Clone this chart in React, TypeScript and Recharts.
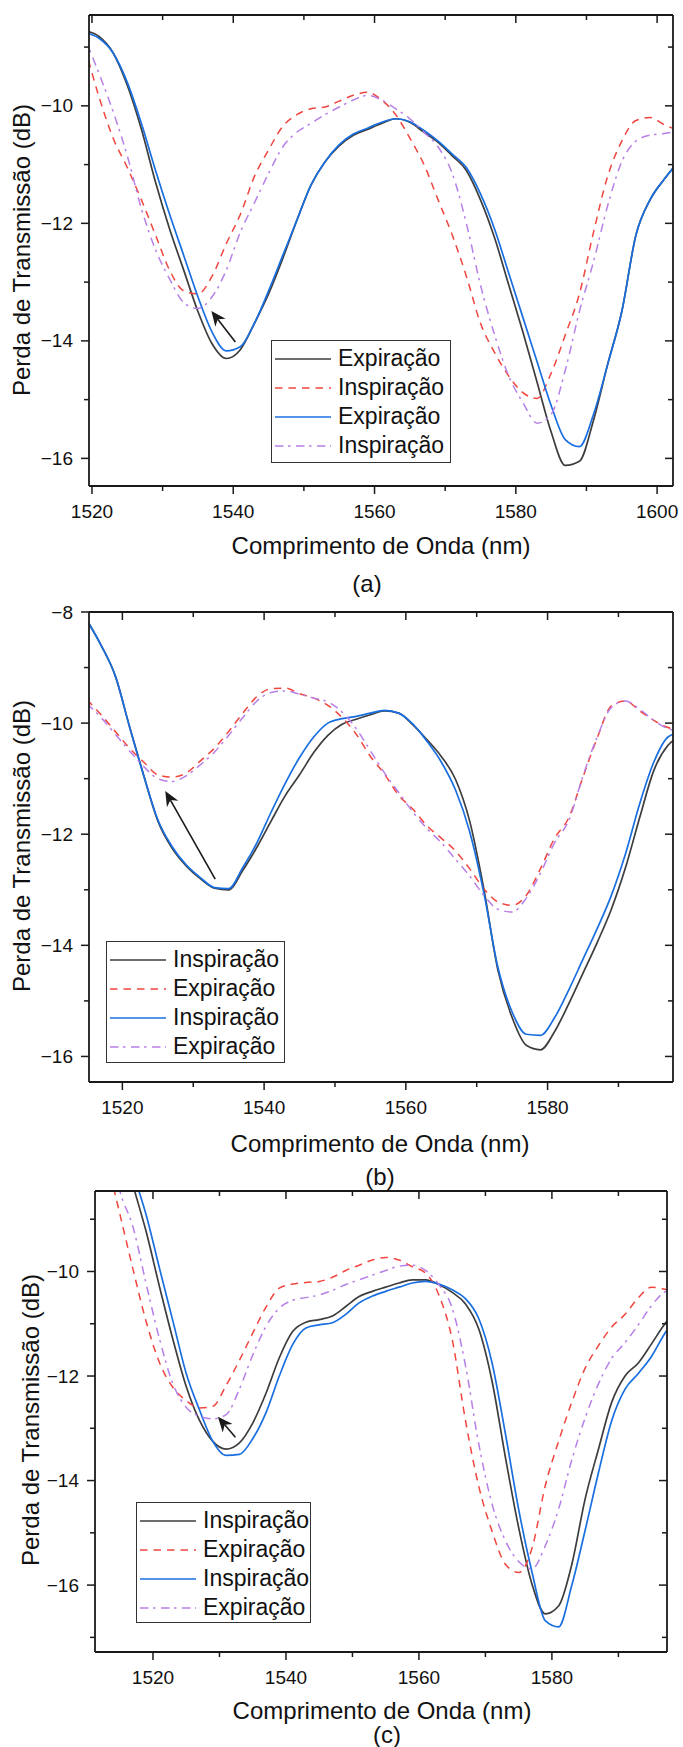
import React from "react";
import { LineChart, Line, XAxis, YAxis, Legend, ReferenceLine } from "recharts";

const FONT = '"Liberation Sans", Arial, Helvetica, sans-serif';

// ---------- (a) ----------
const wlA = [
  1519, 1521, 1523, 1525, 1527, 1529, 1531, 1533, 1535, 1537, 1539, 1541, 1543, 1545, 1547,
  1549, 1551, 1553, 1555, 1557, 1559, 1561, 1563, 1565, 1567, 1569, 1571, 1573, 1575, 1577,
  1579, 1581, 1583, 1585, 1587, 1589, 1591, 1593, 1595, 1597, 1599, 1601, 1603,
];
const aExp1 = [
  -8.72, -8.82, -9.1, -9.65, -10.4, -11.3, -12.1, -12.8, -13.5, -14.05, -14.3, -14.15, -13.7, -13.2, -12.6,
  -11.95, -11.35, -10.95, -10.68, -10.5, -10.4, -10.3, -10.22, -10.28, -10.45, -10.62, -10.85, -11.1, -11.6, -12.25,
  -13.05, -13.85, -14.7, -15.55, -16.12, -16.05, -15.35, -14.4, -13.5, -12.2, -11.6, -11.25, -10.95,
];
const aIns1 = [
  -9.0, -9.85, -10.55, -11.05, -11.6, -12.2, -12.8, -13.15, -13.2, -12.9, -12.35, -11.85, -11.2, -10.75, -10.35,
  -10.15, -10.05, -10.02, -9.92, -9.82, -9.77, -9.9, -10.15, -10.55, -11.0, -11.6, -12.2, -12.9, -13.7, -14.2,
  -14.6, -14.88, -14.98, -14.55, -13.9, -13.2, -12.15, -11.2, -10.6, -10.25, -10.2, -10.32, -10.42,
];
const aExp2 = [
  -8.75, -8.85, -9.1, -9.6, -10.3, -11.1, -11.85, -12.55, -13.25, -13.85, -14.17, -14.1, -13.7, -13.15, -12.55,
  -11.95, -11.35, -10.95, -10.66, -10.48, -10.38, -10.28, -10.22, -10.27, -10.42, -10.6, -10.82, -11.05, -11.5, -12.1,
  -12.85, -13.6, -14.35, -15.1, -15.68, -15.8, -15.25, -14.4, -13.5, -12.2, -11.6, -11.25, -10.95,
];
const aIns2 = [
  -8.85, -9.45, -10.1, -10.85, -11.75, -12.45, -12.95, -13.35, -13.45, -13.25, -12.8, -12.15, -11.65, -11.15, -10.7,
  -10.45, -10.3, -10.15, -10.02, -9.9, -9.82, -9.9, -10.05, -10.22, -10.45, -10.7, -11.15, -12.0, -13.05, -13.9,
  -14.6, -15.05, -15.4, -15.25, -14.5, -13.5, -12.65, -11.7, -10.95, -10.6, -10.5, -10.47, -10.43,
];
const namesA = ["Expiração", "Inspiração", "Expiração", "Inspiração"];
const xTicksA = [1520, 1530, 1540, 1550, 1560, 1570, 1580, 1590, 1600];
const yTicksA = [-16, -15, -14, -13, -12, -11, -10, -9];

// ---------- (b) ----------
const wlB = [
  1515, 1517, 1519, 1521, 1523, 1525, 1527, 1529, 1531, 1533, 1535, 1537, 1539, 1541, 1543,
  1545, 1547, 1549, 1551, 1553, 1555, 1557, 1559, 1561, 1563, 1565, 1567, 1569, 1571, 1573,
  1575, 1577, 1579, 1581, 1583, 1585, 1587, 1589, 1591, 1593, 1595, 1597, 1599,
];
const bIns1 = [
  -8.15, -8.6, -9.15, -10.06, -10.94, -11.76, -12.25, -12.57, -12.8, -12.97, -13.0, -12.65, -12.23, -11.76, -11.3,
  -10.93, -10.53, -10.22, -10.02, -9.93, -9.85, -9.78, -9.82, -10.03, -10.3, -10.6, -11.01, -11.76, -12.98, -14.45,
  -15.3, -15.8, -15.88, -15.55, -15.05, -14.5, -13.95, -13.35, -12.6, -11.7, -10.85, -10.4, -10.23,
];
const bExp1 = [
  -9.58, -9.85, -10.15, -10.45, -10.7, -10.93, -10.97, -10.9, -10.68, -10.45, -10.15, -9.82, -9.52, -9.38, -9.37,
  -9.47, -9.55, -9.68, -9.9, -10.2, -10.6, -10.92, -11.3, -11.55, -11.85, -12.07, -12.3, -12.62, -12.98, -13.22,
  -13.28, -13.1, -12.62, -12.07, -11.7, -10.97, -10.27, -9.69, -9.6, -9.78, -9.95, -10.08, -10.13,
];
const bIns2 = [
  -8.15, -8.6, -9.15, -10.06, -10.94, -11.74, -12.22, -12.55, -12.78, -12.96, -12.98, -12.6, -12.15, -11.6, -11.08,
  -10.62, -10.25, -10.0, -9.92, -9.88, -9.82, -9.77, -9.82, -10.02, -10.33, -10.7, -11.2, -11.95, -13.05, -14.4,
  -15.2, -15.6, -15.62, -15.3, -14.8, -14.25, -13.7, -13.1, -12.35, -11.45, -10.7, -10.25, -10.15,
];
const bExp2 = [
  -9.65, -9.9, -10.2, -10.5, -10.78, -11.0, -11.05, -10.95, -10.75, -10.52, -10.22, -9.9, -9.6, -9.45, -9.42,
  -9.48, -9.55, -9.62, -9.8, -10.1, -10.5, -10.9, -11.25, -11.6, -11.9, -12.15, -12.45, -12.75, -13.1, -13.35,
  -13.4, -13.15, -12.7, -12.15, -11.75, -10.95, -10.25, -9.72, -9.6, -9.75, -9.95, -10.1, -10.15,
];
const namesB = ["Inspiração", "Expiração", "Inspiração", "Expiração"];
const xTicksB = [1520, 1530, 1540, 1550, 1560, 1570, 1580, 1590];
const yTicksB = [-16, -15, -14, -13, -12, -11, -10, -9, -8];

// ---------- (c) ----------
const wlC = [
  1511, 1513, 1515, 1517, 1519, 1521, 1523, 1525, 1527, 1529, 1531, 1533, 1535, 1537, 1539,
  1541, 1543, 1545, 1547, 1549, 1551, 1553, 1555, 1557, 1559, 1561, 1563, 1565, 1567, 1569,
  1571, 1573, 1575, 1577, 1579, 1581, 1583, 1585, 1587, 1589, 1591, 1593, 1595, 1597, 1599,
];
const cIns1 = [
  -5.6, -6.5, -7.4, -8.35, -9.25, -10.3, -11.3, -12.2, -12.85, -13.25, -13.4, -13.28, -12.9, -12.33, -11.65,
  -11.15, -10.97, -10.92, -10.85, -10.67, -10.48, -10.38, -10.3, -10.22, -10.16, -10.16, -10.25, -10.4, -10.62, -11.1,
  -12.1, -13.55, -14.9, -15.98, -16.55, -16.4, -15.6, -14.35, -13.4, -12.5, -12.0, -11.75, -11.38, -11.0, -10.7,
];
const cExp1 = [
  -6.9, -7.85, -8.89, -9.96, -10.97, -11.75, -12.22, -12.47, -12.61, -12.58, -12.18, -11.7, -11.18, -10.68, -10.32,
  -10.24, -10.21, -10.19, -10.11, -9.98, -9.88, -9.78, -9.73, -9.78, -9.91, -10.03, -10.45, -11.3, -12.85, -14.11,
  -14.97, -15.6, -15.76, -15.3, -14.1, -13.25, -12.5, -11.85, -11.42, -11.06, -10.82, -10.5, -10.3, -10.34, -10.4,
];
const cIns2 = [
  -5.4, -6.3, -7.2, -8.1, -8.93, -9.95, -10.95, -11.95, -12.65, -13.25, -13.52, -13.5, -13.2, -12.7, -12.0,
  -11.4, -11.08, -11.02, -10.98, -10.82, -10.6, -10.47, -10.38, -10.3, -10.22, -10.19, -10.24, -10.35, -10.52, -10.9,
  -11.75, -13.1, -14.55, -15.75, -16.68, -16.8, -16.0, -14.95, -13.85, -12.85, -12.25, -11.95, -11.62, -11.18, -10.85,
];
const cExp2 = [
  -6.0, -7.2, -8.45, -9.15, -10.25, -11.3, -12.15, -12.6, -12.77, -12.82, -12.74, -12.25, -11.6, -11.05, -10.7,
  -10.55, -10.5, -10.45, -10.36, -10.25, -10.16, -10.07, -9.98, -9.9, -9.88, -9.98, -10.25, -10.7, -11.8, -13.3,
  -14.45, -15.15, -15.55, -15.69, -15.25, -14.55, -13.6, -12.8, -12.15, -11.66, -11.36, -11.02, -10.65, -10.39, -10.32,
];
const namesC = ["Inspiração", "Expiração", "Inspiração", "Expiração"];
const xTicksC = [1520, 1530, 1540, 1550, 1560, 1570, 1580, 1590];
const yTicksC = [-17, -16, -15, -14, -13, -12, -11, -10, -9];

const SERIES = [
  { key: "s1", color: "#3d3d3d", dash: undefined, width: 1.7 },
  { key: "s2", color: "#f0463f", dash: "7.5 6", width: 1.5 },
  { key: "s3", color: "#1a6fe0", dash: undefined, width: 1.7 },
  { key: "s4", color: "#b77fe8", dash: "8.5 4.5 2.5 5.5", width: 1.5 },
];

const AXIS = { stroke: "#1a1a1a", strokeWidth: 1.8 };
const INK = "#1a1a1a";

const fmt = (v: number) => (v < 0 ? `\u2212${Math.abs(v)}` : `${v}`);

// bottom tick: outward tick + label, plus the mirrored inward tick on the top frame
function BottomTick(props: any) {
  const { x, y, payload, topY } = props;
  const v = payload.value;
  const major = v % 20 === 0;
  const len = major ? 8 : 5;
  return (
    <g>
      <line x1={x} y1={y} x2={x} y2={y + len} stroke={INK} strokeWidth={1.5} />
      <line x1={x} y1={topY} x2={x} y2={topY + len} stroke={INK} strokeWidth={1.5} />
      {major && (
        <text x={x} y={y + 25} textAnchor="middle" dominantBaseline="central" fontSize={19} fontFamily={FONT} fill="#111">
          {fmt(v)}
        </text>
      )}
    </g>
  );
}

// left tick: outward tick + label, plus the mirrored inward tick on the right frame
function LeftTick(props: any) {
  const { x, y, payload, rightX } = props;
  const v = payload.value;
  const major = v % 2 === 0;
  const len = major ? 8 : 5;
  return (
    <g>
      <line x1={x - len} y1={y} x2={x} y2={y} stroke={INK} strokeWidth={1.5} />
      <line x1={rightX - len} y1={y} x2={rightX} y2={y} stroke={INK} strokeWidth={1.5} />
      {major && (
        <text x={x - 16} y={y} textAnchor="end" dominantBaseline="central" fontSize={19} fontFamily={FONT} fill="#111">
          {fmt(v)}
        </text>
      )}
    </g>
  );
}

function ArrowShape(props: any) {
  const { x1, y1, x2, y2 } = props;
  const dx = x2 - x1;
  const dy = y2 - y1;
  const len = Math.hypot(dx, dy) || 1;
  const ux = dx / len;
  const uy = dy / len;
  const hl = 15;
  const hw = 6.5;
  const bx = x2 - ux * hl;
  const by = y2 - uy * hl;
  const nx = x2 - ux * hl * 0.7;
  const ny = y2 - uy * hl * 0.7;
  const pts = `${x2},${y2} ${bx - uy * hw},${by + ux * hw} ${nx},${ny} ${bx + uy * hw},${by - ux * hw}`;
  return (
    <g>
      <line x1={x1} y1={y1} x2={nx} y2={ny} stroke={INK} strokeWidth={1.6} />
      <polygon points={pts} fill={INK} />
    </g>
  );
}

// legend rows follow the series order (not recharts' sorted payload)
function LegendBox({ names }: { names: string[] }) {
  return (
    <div
      style={{
        boxSizing: "border-box",
        width: "100%",
        height: "100%",
        border: "1.3px solid #333",
        background: "#fff",
        padding: "3px 0 0 3px",
        fontFamily: FONT,
        fontSize: 23,
        color: "#111",
      }}
    >
      {SERIES.map((s, i) => (
        <div key={i} style={{ display: "flex", alignItems: "center", height: 29, whiteSpace: "nowrap" }}>
          <svg width={56} height={10} style={{ flex: "none" }}>
            <line x1={0} y1={5} x2={56} y2={5} stroke={s.color} strokeWidth={s.width} strokeDasharray={s.dash} />
          </svg>
          <span style={{ marginLeft: 7 }}>{names[i]}</span>
        </div>
      ))}
    </div>
  );
}

type PanelSpec = {
  top: number;
  plot: { left: number; right: number; top: number; bottom: number };
  wl: number[];
  series: number[][];
  names: string[];
  xDomain: [number, number];
  yDomain: [number, number];
  xTicks: number[];
  yTicks: number[];
  legend: { left: number; top: number; width: number; height: number };
  arrow: [{ x: number; y: number }, { x: number; y: number }];
};

function Panel({ p }: { p: PanelSpec }) {
  const rows = p.wl.map((x, i) => ({
    x,
    s1: p.series[0][i],
    s2: p.series[1][i],
    s3: p.series[2][i],
    s4: p.series[3][i],
  }));
  const height = p.plot.bottom + 40 - p.top;
  const topY = p.plot.top - p.top;
  return (
    <div style={{ position: "absolute", left: 0, top: p.top }}>
      <LineChart
        width={683}
        height={height}
        data={rows}
        margin={{ top: topY, right: 683 - p.plot.right, bottom: 0, left: 0 }}
      >
        <XAxis
          xAxisId="b"
          dataKey="x"
          type="number"
          domain={p.xDomain}
          allowDataOverflow
          ticks={p.xTicks}
          interval={0}
          height={40}
          tickSize={0}
          tickMargin={0}
          tickLine={false}
          axisLine={AXIS}
          tick={(tp: any) => <BottomTick {...tp} topY={topY} />}
        />
        <XAxis
          xAxisId="t"
          orientation="top"
          mirror
          dataKey="x"
          type="number"
          domain={p.xDomain}
          allowDataOverflow
          ticks={p.xTicks}
          height={30}
          tickLine={false}
          axisLine={AXIS}
          tick={false}
        />
        <YAxis
          yAxisId="l"
          type="number"
          domain={p.yDomain}
          allowDataOverflow
          ticks={p.yTicks}
          interval={0}
          width={p.plot.left}
          tickSize={0}
          tickMargin={0}
          tickLine={false}
          axisLine={AXIS}
          tick={(tp: any) => <LeftTick {...tp} rightX={p.plot.right} />}
        />
        <YAxis
          yAxisId="r"
          orientation="right"
          mirror
          type="number"
          domain={p.yDomain}
          allowDataOverflow
          ticks={p.yTicks}
          width={60}
          tickLine={false}
          axisLine={AXIS}
          tick={false}
        />
        {SERIES.map((s, i) => (
          <Line
            key={s.key}
            xAxisId="b"
            yAxisId="l"
            type="monotone"
            dataKey={s.key}
            name={p.names[i]}
            stroke={s.color}
            strokeWidth={s.width}
            strokeDasharray={s.dash}
            dot={false}
            activeDot={false}
            isAnimationActive={false}
          />
        ))}
        <ReferenceLine xAxisId="b" yAxisId="l" segment={p.arrow} shape={(sp: any) => <ArrowShape {...sp} />} />
        <Legend
          layout="vertical"
          align="center"
          verticalAlign="middle"
          wrapperStyle={{
            left: p.legend.left,
            top: p.legend.top - p.top,
            width: p.legend.width,
            height: p.legend.height,
          }}
          content={() => <LegendBox names={p.names} />}
        />
      </LineChart>
    </div>
  );
}

const panels: PanelSpec[] = [
  {
    top: 0,
    plot: { left: 89, right: 673, top: 15, bottom: 486 },
    wl: wlA,
    series: [aExp1, aIns1, aExp2, aIns2],
    names: namesA,
    xDomain: [1519.58, 1602.25],
    yDomain: [-16.47, -8.454],
    xTicks: xTicksA,
    yTicks: yTicksA,
    legend: { left: 271, top: 340, width: 180, height: 123 },
    arrow: [
      { x: 1540.3, y: -14.02 },
      { x: 1536.9, y: -13.49 },
    ],
  },
  {
    top: 600,
    plot: { left: 89, right: 673, top: 612, bottom: 1082 },
    wl: wlB,
    series: [bIns1, bExp1, bIns2, bExp2],
    names: namesB,
    xDomain: [1515.29, 1597.7],
    yDomain: [-16.46, -8],
    xTicks: xTicksB,
    yTicks: yTicksB,
    legend: { left: 106, top: 941, width: 179, height: 122 },
    arrow: [
      { x: 1533.1, y: -12.81 },
      { x: 1526.05, y: -11.22 },
    ],
  },
  {
    top: 1180,
    plot: { left: 95, right: 667, top: 1191, bottom: 1652 },
    wl: wlC,
    series: [cIns1, cExp1, cIns2, cExp2],
    names: namesC,
    xDomain: [1511.28, 1597.31],
    yDomain: [-17.28, -8.46],
    xTicks: xTicksC,
    yTicks: yTicksC,
    legend: { left: 136, top: 1502, width: 175, height: 121 },
    arrow: [
      { x: 1532.4, y: -13.17 },
      { x: 1529.76, y: -12.78 },
    ],
  },
];

const titles = [
  { x: { cx: 381, cy: 546 }, y: { cx: 22, cy: 250 }, tag: { cx: 367, cy: 584, text: "(a)" } },
  { x: { cx: 380, cy: 1144 }, y: { cx: 22, cy: 846 }, tag: { cx: 380, cy: 1177, text: "(b)" } },
  { x: { cx: 382, cy: 1711 }, y: { cx: 31, cy: 1420 }, tag: { cx: 387, cy: 1735, text: "(c)" } },
];

const textStyle: React.CSSProperties = {
  position: "absolute",
  whiteSpace: "nowrap",
  fontFamily: FONT,
  fontSize: 24,
  color: "#111",
  lineHeight: 1,
};

export default function App() {
  return (
    <div style={{ position: "absolute", left: 0, top: 0, width: 683, height: 1747, background: "#fff", overflow: "hidden" }}>
      {panels.map((p, i) => (
        <Panel key={i} p={p} />
      ))}
      {titles.map((t, i) => (
        <React.Fragment key={i}>
          <div style={{ ...textStyle, left: t.x.cx, top: t.x.cy, transform: "translate(-50%, -50%)" }}>
            Comprimento de Onda (nm)
          </div>
          <div style={{ ...textStyle, left: t.y.cx, top: t.y.cy, transform: "translate(-50%, -50%) rotate(-90deg)" }}>
            Perda de Transmissão (dB)
          </div>
          <div style={{ ...textStyle, left: t.tag.cx, top: t.tag.cy, transform: "translate(-50%, -50%)" }}>
            {t.tag.text}
          </div>
        </React.Fragment>
      ))}
    </div>
  );
}
